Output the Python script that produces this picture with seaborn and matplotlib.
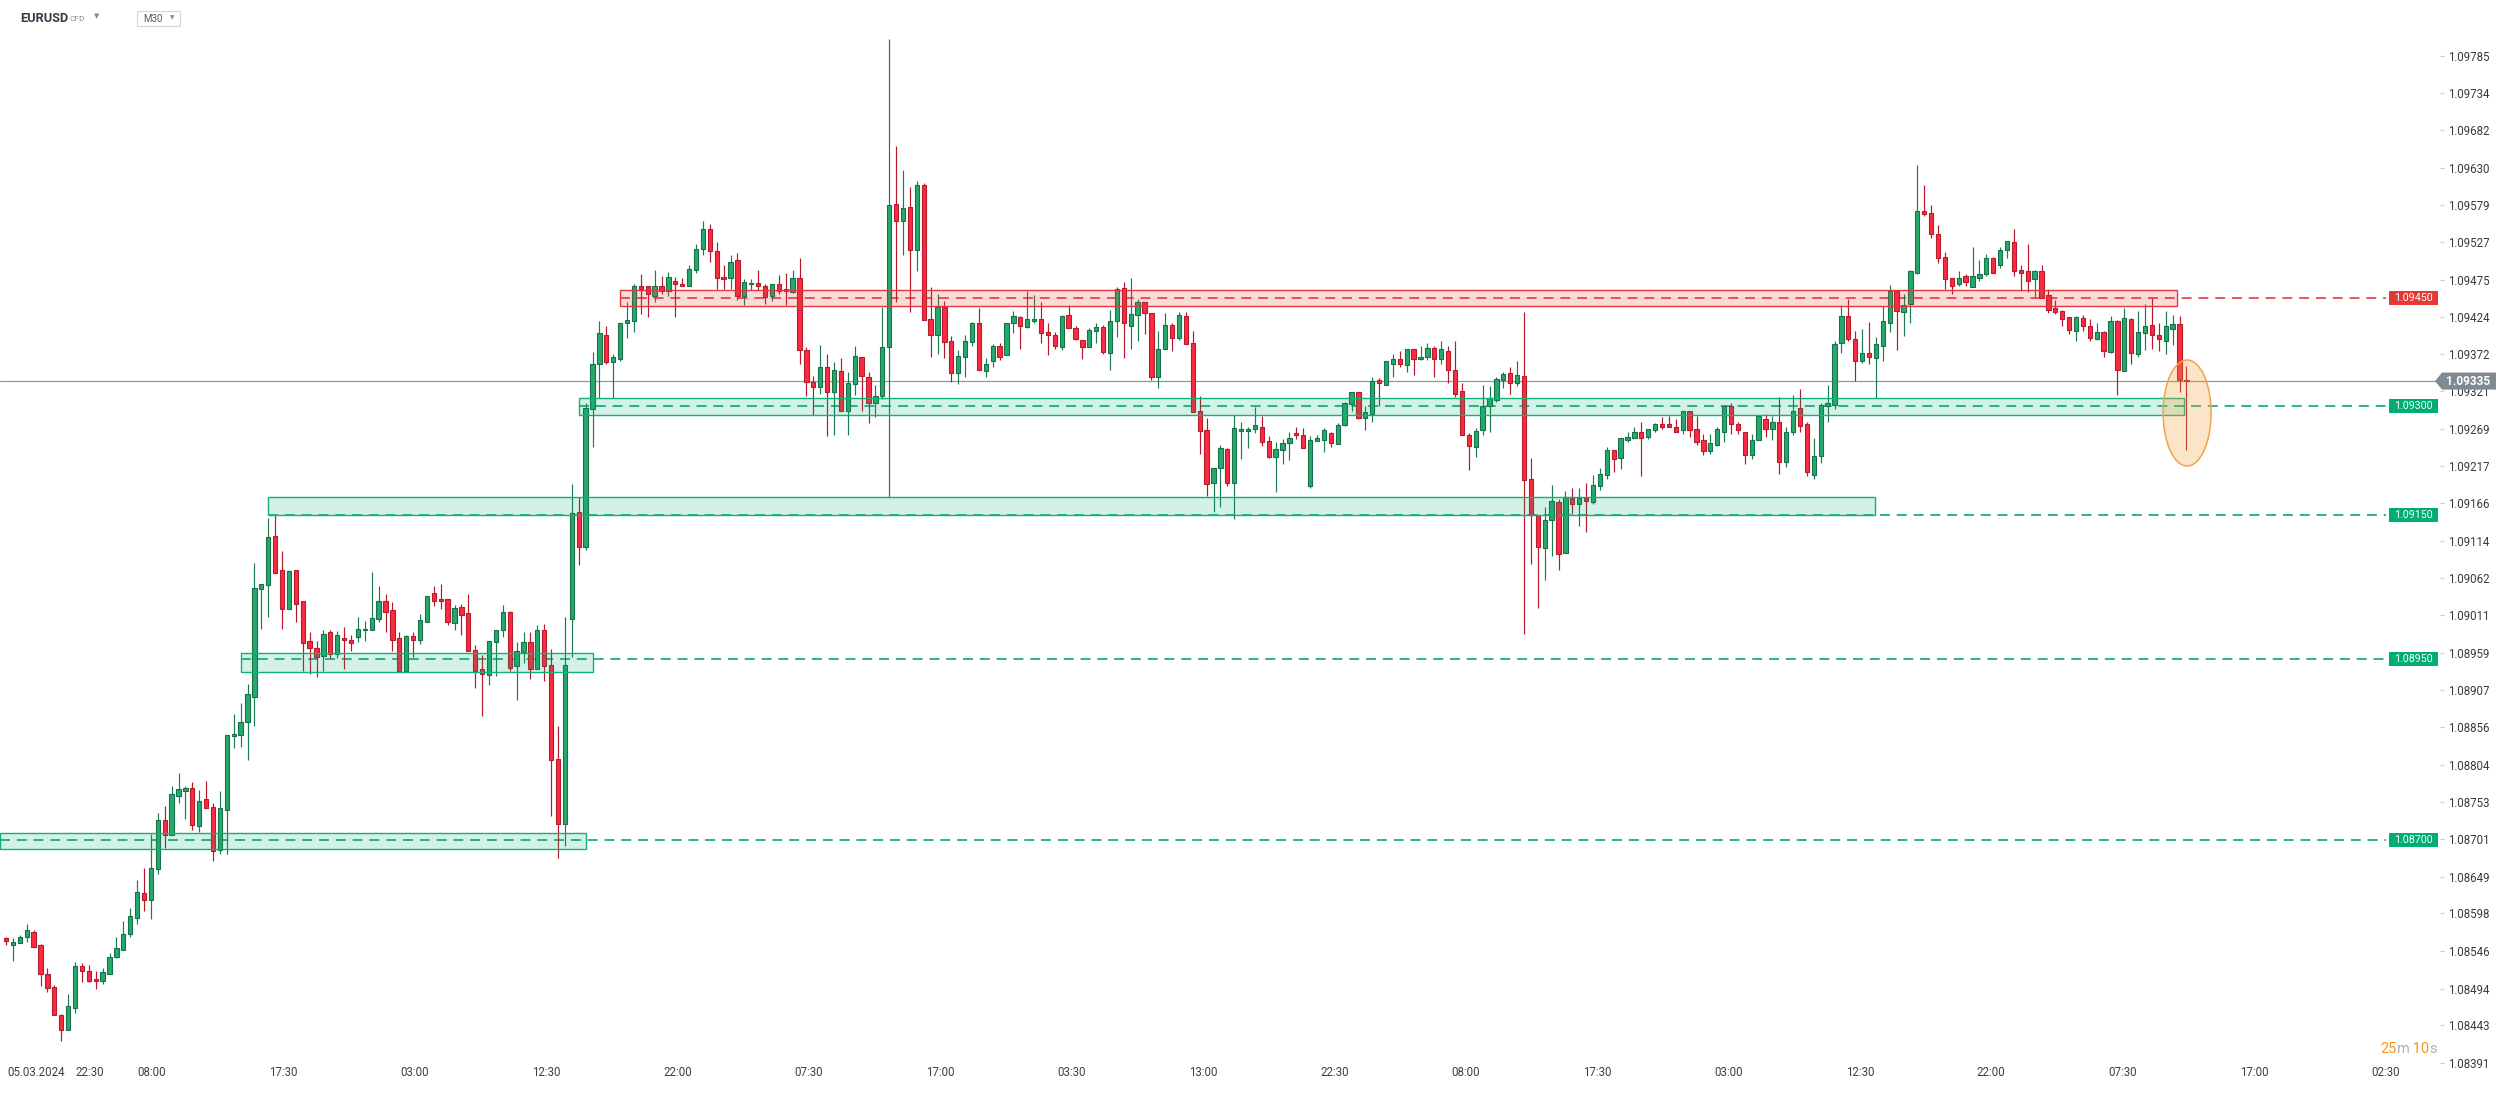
import numpy as np
import matplotlib
matplotlib.use("Agg")
import matplotlib.pyplot as plt
import matplotlib.patches as mpatches
import matplotlib.transforms as mtransforms
import seaborn as sns

# ---------------- data (prices in 1e-5 units) ----------------
open_pts = [
108564,108554,108557,108566,108573,108555,108514,108496,108457,108437,
108467,108525,108518,108507,108504,108514,108538,108548,108569,108592,
108627,108617,108660,108728,108707,108760,108767,108772,108719,108756,
108745,108686,108741,108844,108845,108863,108897,109047,109053,109120,
109073,109019,109073,109030,108975,108965,108955,108987,108957,108980,
108977,108981,108990,108990,109006,109030,109018,108979,108934,108982,
108976,109002,109041,109033,109033,109000,109022,109014,108963,108936,
108928,108974,108990,109015,108940,108960,108974,108937,108990,108942,
108812,108722,109006,109154,109106,109296,109359,109399,109361,109366,
109415,109418,109466,109466,109453,109467,109460,109474,109470,109466,
109489,109518,109545,109515,109479,109477,109502,109453,109469,109471,
109466,109453,109469,109462,109458,109478,109378,109334,109327,109355,
109320,109349,109293,109331,109368,109341,109305,109315,109382,109580,
109556,109576,109517,109606,109421,109399,109438,109390,109346,109368,
109389,109415,109349,109363,109384,109371,109415,109423,109410,109418,
109421,109403,109399,109382,109426,109408,109392,109382,109404,109410,
109374,109418,109464,109411,109427,109444,109429,109341,109379,109413,
109394,109425,109388,109293,109267,109194,109215,109241,109194,109266,
109266,109269,109271,109252,109230,109239,109249,109263,109260,109190,
109252,109253,109263,109248,109274,109303,109320,109284,109289,109336,
109330,109359,109366,109357,109380,109365,109368,109381,109365,109377,
109350,109321,109260,109244,109267,109300,109309,109337,109346,109333,
109342,109199,109150,109104,109143,109167,109097,109173,109165,109173,
109167,109190,109205,109239,109228,109254,109256,109264,109257,109267,
109275,109275,109272,109267,109294,109268,109254,109238,109246,109265,
109301,109276,109264,109232,109253,109283,109268,109279,109223,109265,
109298,109275,109205,109231,109301,109302,109388,109425,109393,109363,
109374,109367,109383,109415,109459,109430,109441,109485,109571,109568,
109539,109507,109477,109469,109480,109465,109478,109483,109506,109496,
109516,109528,109489,109487,109476,109488,109454,109436,109432,109423,
109404,109422,109411,109393,109403,109375,109418,109349,109421,109372,
109401,109412,109399,109390,109407,109414,109337]

high_pts = [
108565,108564,108568,108584,108575,108556,108523,108499,108459,108487,
108531,108530,108527,108519,108522,108543,108566,108587,108605,108645,
108661,108708,108737,108747,108774,108792,108774,108780,108769,108782,
108751,108767,108845,108874,108889,108916,109083,109054,109145,109149,
109100,109074,109074,109030,108987,108975,108991,108991,108989,108995,
108984,109009,109003,109071,109052,109040,109029,108988,108984,108988,
109012,109038,109052,109054,109033,109025,109026,109040,108970,108956,
108975,108991,109025,109017,108974,108988,108988,108997,108999,108964,
108857,109008,109193,109175,109305,109375,109418,109411,109372,109415,
109444,109469,109483,109466,109489,109480,109486,109479,109478,109496,
109525,109556,109552,109528,109495,109510,109512,109476,109476,109489,
109469,109469,109482,109484,109489,109506,109382,109342,109385,109372,
109361,109367,109347,109384,109368,109347,109330,109438,109808,109661,
109627,109604,109612,109609,109465,109455,109446,109397,109378,109399,
109417,109436,109367,109386,109388,109416,109432,109425,109460,109454,
109444,109415,109403,109426,109440,109411,109392,109408,109415,109412,
109433,109465,109472,109477,109449,109445,109429,109405,109429,109416,
109431,109431,109405,109314,109284,109215,109246,109243,109288,109279,
109271,109299,109287,109259,109251,109255,109265,109271,109270,109259,
109260,109270,109265,109277,109306,109320,109320,109300,109340,109339,
109363,109372,109377,109380,109380,109384,109388,109383,109390,109383,
109390,109332,109263,109270,109330,109328,109341,109348,109354,109363,
109431,109228,109150,109161,109191,109172,109183,109187,109187,109194,
109205,109215,109244,109239,109256,109264,109271,109278,109268,109277,
109285,109287,109282,109294,109294,109287,109262,109262,109272,109301,
109304,109279,109264,109262,109287,109290,109287,109313,109271,109316,
109324,109278,109256,109304,109330,109391,109440,109448,109405,109407,
109417,109396,109439,109468,109460,109456,109489,109634,109606,109579,
109551,109513,109477,109488,109483,109520,109502,109511,109507,109520,
109529,109545,109496,109525,109489,109495,109463,109447,109434,109423,
109425,109427,109421,109416,109405,109425,109420,109436,109422,109432,
109441,109450,109416,109432,109427,109425,109356]

low_pts = [
108555,108532,108557,108558,108552,108497,108489,108457,108421,108437,
108460,108503,108503,108493,108501,108514,108536,108547,108565,108584,
108601,108591,108652,108689,108707,108751,108729,108714,108711,108744,
108671,108681,108681,108827,108829,108810,108857,108992,109008,109070,
108992,109019,109002,108933,108930,108926,108934,108952,108952,108937,
108961,108974,108975,108990,109002,108987,108962,108934,108934,108953,
108971,109001,109024,109019,108997,108990,108983,108961,108910,108872,
108914,108927,108981,108934,108894,108945,108923,108937,108920,108733,
108675,108691,108953,109080,109101,109244,109311,109359,109311,109363,
109394,109403,109428,109423,109445,109456,109453,109423,109466,109466,
109485,109510,109500,109463,109463,109463,109447,109440,109461,109461,
109442,109446,109455,109440,109457,109358,109314,109288,109317,109259,
109260,109293,109261,109316,109293,109277,109285,109310,109174,109445,
109509,109431,109487,109419,109369,109372,109367,109334,109331,109341,
109384,109351,109341,109355,109364,109371,109401,109379,109408,109416,
109388,109371,109379,109378,109408,109392,109365,109382,109388,109373,
109351,109396,109367,109380,109390,109400,109337,109325,109379,109377,
109392,109387,109292,109234,109176,109154,109161,109190,109144,109227,
109242,109263,109245,109228,109182,109220,109226,109255,109243,109187,
109252,109237,109244,109248,109273,109293,109282,109267,109278,109300,
109330,109340,109355,109347,109344,109364,109364,109341,109359,109332,
109313,109260,109212,109230,109261,109265,109306,109325,109317,109328,
108985,109082,109021,109060,109093,109073,109097,109151,109134,109126,
109165,109184,109199,109209,109213,109250,109256,109204,109255,109265,
109268,109271,109264,109262,109258,109246,109232,109234,109245,109250,
109262,109262,109220,109227,109253,109258,109254,109207,109216,109260,
109265,109204,109199,109221,109279,109297,109374,109390,109335,109360,
109358,109312,109363,109403,109378,109397,109416,109483,109564,109533,
109499,109462,109455,109467,109467,109465,109474,109481,109485,109491,
109506,109481,109459,109458,109451,109450,109429,109428,109411,109400,
109390,109404,109390,109392,109368,109374,109316,109349,109359,109368,
109378,109379,109377,109372,109385,109320,109239]

close_pts = [
108560,108558,108566,108575,108552,108514,108495,108457,108437,108470,
108525,108518,108505,108504,108517,108538,108550,108569,108595,108628,
108617,108661,108728,108707,108763,108770,108772,108720,108754,108744,
108685,108744,108845,108846,108863,108902,109048,109054,109119,109070,
109019,109072,109027,108973,108965,108953,108985,108957,108984,108976,
108972,108992,108992,109007,109030,109016,108976,108934,108982,108976,
109004,109038,109031,109030,109001,109021,109011,108961,108934,108930,
108975,108991,109015,108938,108962,108974,108937,108990,108940,108810,
108722,108942,109153,109106,109298,109359,109402,109361,109368,109415,
109420,109466,109463,109455,109467,109460,109479,109469,109466,109490,
109518,109545,109515,109477,109476,109500,109453,109472,109471,109466,
109452,109469,109460,109459,109478,109378,109334,109327,109355,109320,
109351,109293,109333,109370,109342,109305,109315,109382,109579,109556,
109574,109517,109606,109419,109399,109438,109389,109346,109370,109390,
109415,109351,109359,109384,109368,109415,109425,109411,109421,109421,
109401,109399,109384,109425,109408,109393,109382,109406,109410,109375,
109418,109463,109415,109428,109444,109429,109341,109380,109413,109394,
109427,109387,109292,109266,109193,109215,109243,109194,109270,109269,
109269,109274,109251,109230,109241,109249,109256,109260,109243,109253,
109256,109267,109249,109274,109304,109320,109284,109292,109335,109332,
109363,109366,109359,109380,109365,109369,109381,109365,109380,109350,
109317,109260,109245,109266,109301,109312,109338,109345,109333,109344,
109198,109150,109105,109143,109169,109095,109174,109165,109173,109169,
109191,109206,109239,109227,109256,109257,109264,109256,109268,109276,
109272,109272,109265,109294,109267,109251,109238,109249,109268,109301,
109276,109267,109232,109254,109286,109269,109278,109223,109264,109294,
109273,109209,109231,109302,109304,109386,109425,109393,109363,109374,
109368,109386,109418,109459,109432,109440,109487,109571,109566,109538,
109505,109476,109467,109478,109472,109480,109483,109505,109485,109517,
109529,109488,109484,109474,109487,109450,109434,109430,109421,109406,
109423,109411,109395,109403,109377,109418,109350,109422,109374,109403,
109411,109399,109393,109411,109414,109337,109335]

current_price = 1.09335

zone_levels = [1.09450, 1.09300, 1.09150, 1.08950, 1.08700]
zone_tops = [1.09461, 1.09312, 1.09174, 1.08959, 1.08710]
zone_bottoms = [1.09439, 1.09288, 1.09150, 1.08932, 1.08687]
zone_starts = [89.0, 83.0, 38.0, 34.1, -0.9]     # candle index
zone_ends = [314.6, 315.7, 270.9, 85.1, 84.1]
zone_kinds = ["res", "sup", "sup", "sup", "sup"]
zone_labels = ["1.09450", "1.09300", "1.09150", "1.08950", "1.08700"]

ytick_values = [1.09785, 1.09734, 1.09682, 1.09630, 1.09579, 1.09527, 1.09475,
                1.09424, 1.09372, 1.09321, 1.09269, 1.09217, 1.09166, 1.09114,
                1.09062, 1.09011, 1.08959, 1.08907, 1.08856, 1.08804, 1.08753,
                1.08701, 1.08649, 1.08598, 1.08546, 1.08494, 1.08443, 1.08391]

xtick_labels = ["05.03.2024", "22:30", "08:00", "17:30", "03:00", "12:30", "22:00",
                "07:30", "17:00", "03:30", "13:00", "22:30", "08:00", "17:30",
                "03:00", "12:30", "22:00", "07:30", "17:00", "02:30"]
xtick_pos = [4.35, 12.2] + [21.16 + 19.04 * k for k in range(18)]

countdown_parts = ["25", "m", " 10", "s"]

# ---------------- style ----------------
sns.set_theme(style="white")
plt.rcParams["font.family"] = ["Roboto", "DejaVu Sans"]

W, H = 2506, 1093
AX_W = 2440
fig = plt.figure(figsize=(W / 100, H / 100), dpi=100)
ax = fig.add_axes([0, 0, AX_W / W, 1])
ax.set_facecolor("white")

n = min(len(open_pts), len(high_pts), len(low_pts), len(close_pts))
o = np.array(open_pts[:n]) / 1e5
h = np.array(high_pts[:n]) / 1e5
l = np.array(low_pts[:n]) / 1e5
c = np.array(close_pts[:n]) / 1e5
idx = np.arange(n)
up = c >= o

X0, X1 = -0.87, 352.75
Y0, Y1 = 1.083495, 1.098625
ax.set_xlim(X0, X1)
ax.set_ylim(Y0, Y1)
PPU = 72238.0  # pixels per price unit

def axx(px):
    return px / AX_W

def idx_of_px(px):
    return X0 + (X1 - X0) * px / AX_W

# current price line (seaborn)
sns.lineplot(x=[X0, idx_of_px(2435)], y=[current_price, current_price], ax=ax,
             color="#8d989e", linewidth=0.9, zorder=1)

# dashed level lines
for lev, kind, xs in zip(zone_levels, zone_kinds, zone_starts):
    col = "#e8484b" if kind == "res" else "#17b27b"
    ax.plot([xs, idx_of_px(2386)], [lev, lev], color=col, lw=1.3,
            dashes=(5.5, 3.8), zorder=1.5, solid_capstyle="butt")

# candles
wick_cols = np.where(up, "#1c7a4f", "#b3192b")
fill_cols = np.where(up, "#27a96c", "#fb2a41")
edge_cols = np.where(up, "#17714a", "#b51c2c")
ax.vlines(idx, l, h, colors=wick_cols, linewidth=0.85, zorder=2)
body_bot = np.minimum(o, c)
body_h = np.maximum(np.abs(c - o), 1.3e-5)
ax.bar(idx, body_h, bottom=body_bot, width=0.62, color=fill_cols,
       edgecolor=edge_cols, linewidth=0.8, zorder=3)

# zone boxes
for top, bot, xs, xe, kind in zip(zone_tops, zone_bottoms, zone_starts, zone_ends, zone_kinds):
    if kind == "res":
        fc, ec = (0.90, 0.22, 0.21, 0.18), "#e0393f"
    else:
        fc, ec = (0.0, 0.69, 0.455, 0.17), "#10b27a"
    ax.add_patch(mpatches.Rectangle((xs, bot), xe - xs, top - bot, facecolor=fc,
                                    edgecolor=ec, linewidth=1.0, zorder=4))

# orange ellipse around last candle
ax.add_patch(mpatches.Ellipse((316.1, 1.092908), 6.96, 106 / PPU,
                              facecolor=(0.97, 0.63, 0.24, 0.28), edgecolor="#f4a24c",
                              linewidth=1.1, zorder=5))

# right axis ticks
ax.yaxis.tick_right()
ax.set_yticks(ytick_values)
ax.set_yticklabels([f"{v:.5f}" for v in ytick_values])
ax.tick_params(axis="y", direction="out", length=3, width=0.8, color="#cfcfcf",
               pad=2.5, labelsize=8.3, labelcolor="#3a3a3a", right=True, left=False)
ax.set_xticks([])
for s in ax.spines.values():
    s.set_visible(False)
ax.grid(False)

# x labels (inside the plot area, near bottom)
bt = mtransforms.blended_transform_factory(ax.transData, ax.transAxes)
for lab, pos in zip(xtick_labels, xtick_pos):
    ax.text(pos, 1 - 1073 / H, lab, transform=bt, ha="center", va="center",
            fontsize=8.3, color="#3c4043", zorder=6)

# level labels on the axis
lt = mtransforms.blended_transform_factory(ax.transAxes, ax.transData)
for lev, kind, lab in zip(zone_levels, zone_kinds, zone_labels):
    col = "#e53935" if kind == "res" else "#00ad72"
    hh = 7 / PPU
    ax.add_patch(mpatches.Rectangle((axx(2389), lev - hh), axx(2438) - axx(2389), 2 * hh,
                                    transform=lt, facecolor=col, edgecolor="none",
                                    clip_on=False, zorder=7))
    ax.text(axx(2413.5), lev, lab, transform=lt, ha="center", va="center",
            fontsize=7.7, color="white", clip_on=False, zorder=8)

# current price label (pointed)
hh = 8.5 / PPU
poly = [(axx(2435), current_price), (axx(2442), current_price + hh),
        (axx(2496), current_price + hh), (axx(2496), current_price - hh),
        (axx(2442), current_price - hh)]
ax.add_patch(mpatches.Polygon(poly, closed=True, transform=lt, facecolor="#7f8b91",
                              edgecolor="none", clip_on=False, zorder=9))
ax.text(axx(2468), current_price, f"{current_price:.5f}", transform=lt, ha="center",
        va="center", fontsize=8.6, fontweight="bold", color="white", clip_on=False, zorder=10)

# header
def fx(px):
    return px / W

def fy(py):
    return 1 - py / H

fig.text(fx(20.5), fy(18), "EURUSD", ha="left", va="center", fontsize=9.2, fontweight="bold",
         color="#333b45")
fig.text(fx(70), fy(19), "CFD", ha="left", va="center", fontsize=6, color="#8a8f94")
fig.text(fx(96.5), fy(16), "\u25BC", ha="center", va="center", fontsize=5,
         color="#8a8a8a", family=["DejaVu Sans"])
fig.patches.append(mpatches.Rectangle((fx(137), fy(25.7)), 43 / W, 15 / H,
                                      transform=fig.transFigure, facecolor="white",
                                      edgecolor="#d6d6d6", linewidth=0.8))
fig.text(fx(143), fy(18.5), "M30", ha="left", va="center", fontsize=7, color="#555a60")
fig.text(fx(172.5), fy(17.5), "\u25BC", ha="center", va="center", fontsize=4.2,
         color="#8a8a8a", family=["DejaVu Sans"])

# countdown: pieces laid out one after another, ending at x=2437 px
cd_col = ["#f7941d", "#b0b0b0", "#f7941d", "#b0b0b0"]
renderer = fig.canvas.get_renderer()
pieces = []
for txt, col in zip(countdown_parts, cd_col):
    t = fig.text(0, fy(1049), txt, ha="left", va="center", fontsize=10.5, color=col)
    pieces.append(t)
widths = [p.get_window_extent(renderer).width for p in pieces]
xcur = 2437 - sum(widths)
for p, wdt in zip(pieces, widths):
    p.set_x(fx(xcur))
    xcur += wdt

fig.savefig("out.png", dpi=100, facecolor="white")
